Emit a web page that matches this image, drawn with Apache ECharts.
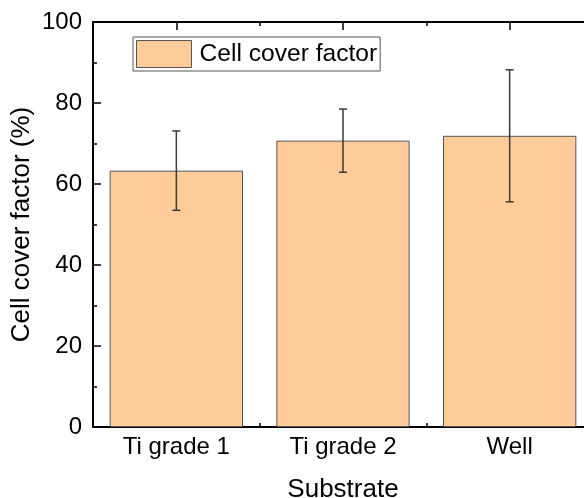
<!DOCTYPE html>
<html><head><meta charset="utf-8">
<script src="https://cdn.jsdelivr.net/npm/echarts@6/dist/echarts.min.js"></script>
<style>html,body{margin:0;padding:0;background:#fff}#c{width:584px;height:498px}</style>
</head><body><div id="c"></div>
<script>
const categories = ['Ti grade 1', 'Ti grade 2', 'Well'];
const means = [63.3, 70.7, 71.9];
const errors = [9.8, 7.8, 16.3];
const yTicks = { min: 0, max: 100, interval: 20 };
const seriesName = 'Cell cover factor';

const FONT = 'Liberation Sans, Arial, sans-serif';
const chart = echarts.init(document.getElementById('c'), null, { renderer: 'canvas' });

const errData = categories.map((c, i) => [i, means[i] - errors[i], means[i] + errors[i]]);

const baseX = {
  type: 'category', data: categories, boundaryGap: true
};

chart.setOption({
  animation: false,
  textStyle: { fontFamily: FONT },
  grid: { left: 93, width: 500, top: 22, height: 405, containLabel: false, outerBoundsMode: 'none' },
  legend: {
    data: [seriesName], left: 133, top: 37, orient: 'horizontal',
    itemWidth: 55, itemHeight: 27, padding: [3, 3, 3, 3],
    borderColor: '#555', borderWidth: 1, icon: 'rect',
    textStyle: { fontSize: 24.6, color: '#000', fontFamily: FONT, padding: [0, 0, 0, 3] },
    itemStyle: { color: '#FFCC99', borderColor: '#555', borderWidth: 1 }
  },
  xAxis: [
    Object.assign({}, baseX, {
      position: 'bottom', name: 'Substrate', nameLocation: 'middle', nameGap: 50,
      nameMoveOverlap: false,
      nameTextStyle: { fontSize: 26, color: '#000', fontFamily: FONT },
      axisLine: { show: true, lineStyle: { color: '#000', width: 2 } },
      axisTick: { show: true, inside: true, length: 8, alignWithLabel: true, lineStyle: { color: '#000', width: 1.5 } },
      axisLabel: { fontSize: 24, color: '#000', margin: 8, fontFamily: FONT },
      splitLine: { show: false }
    }),
    Object.assign({}, baseX, {
      position: 'bottom',
      axisLine: { show: false },
      axisTick: { show: true, inside: true, length: 4, alignWithLabel: false, lineStyle: { color: '#000', width: 1.5 } },
      axisLabel: { show: false }, splitLine: { show: false }
    }),
    Object.assign({}, baseX, {
      position: 'top',
      axisLine: { show: true, lineStyle: { color: '#000', width: 2 } },
      axisTick: { show: true, inside: true, length: 8, alignWithLabel: true, lineStyle: { color: '#000', width: 1.5 } },
      axisLabel: { show: false }, splitLine: { show: false }
    }),
    Object.assign({}, baseX, {
      position: 'top',
      axisLine: { show: false },
      axisTick: { show: true, inside: true, length: 4, alignWithLabel: false, lineStyle: { color: '#000', width: 1.5 } },
      axisLabel: { show: false }, splitLine: { show: false }
    })
  ],
  yAxis: {
    type: 'value', min: yTicks.min, max: yTicks.max, interval: yTicks.interval,
    name: 'Cell cover factor (%)', nameLocation: 'middle', nameGap: 58,
    nameMoveOverlap: false,
    nameTextStyle: { fontSize: 26, color: '#000', fontFamily: FONT },
    axisLine: { show: true, lineStyle: { color: '#000', width: 2 } },
    axisTick: { show: true, inside: true, length: 8, lineStyle: { color: '#000', width: 1.5 } },
    minorTick: { show: true, splitNumber: 2, length: 4, lineStyle: { color: '#000', width: 1.5 } },
    axisLabel: { fontSize: 24, color: '#000', margin: 11, fontFamily: FONT },
    splitLine: { show: false }
  },
  series: [
    {
      name: seriesName, type: 'bar', data: means, xAxisIndex: 0,
      barWidth: '80%',
      itemStyle: { color: '#FFCC99', borderColor: '#555', borderWidth: 1 }
    },
    {
      type: 'custom', xAxisIndex: 0, data: errData, z: 10,
      renderItem: function (params, api) {
        const x = api.value(0);
        const lo = api.coord([x, api.value(1)]);
        const hi = api.coord([x, api.value(2)]);
        const w = 4;
        const style = { stroke: '#3a3a3a', lineWidth: 1.5 };
        return {
          type: 'group', children: [
            { type: 'line', shape: { x1: lo[0], y1: lo[1], x2: hi[0], y2: hi[1] }, style: style },
            { type: 'line', shape: { x1: hi[0] - w, y1: hi[1], x2: hi[0] + w, y2: hi[1] }, style: style },
            { type: 'line', shape: { x1: lo[0] - w, y1: lo[1], x2: lo[0] + w, y2: lo[1] }, style: style }
          ]
        };
      }
    }
  ]
});
</script></body></html>
